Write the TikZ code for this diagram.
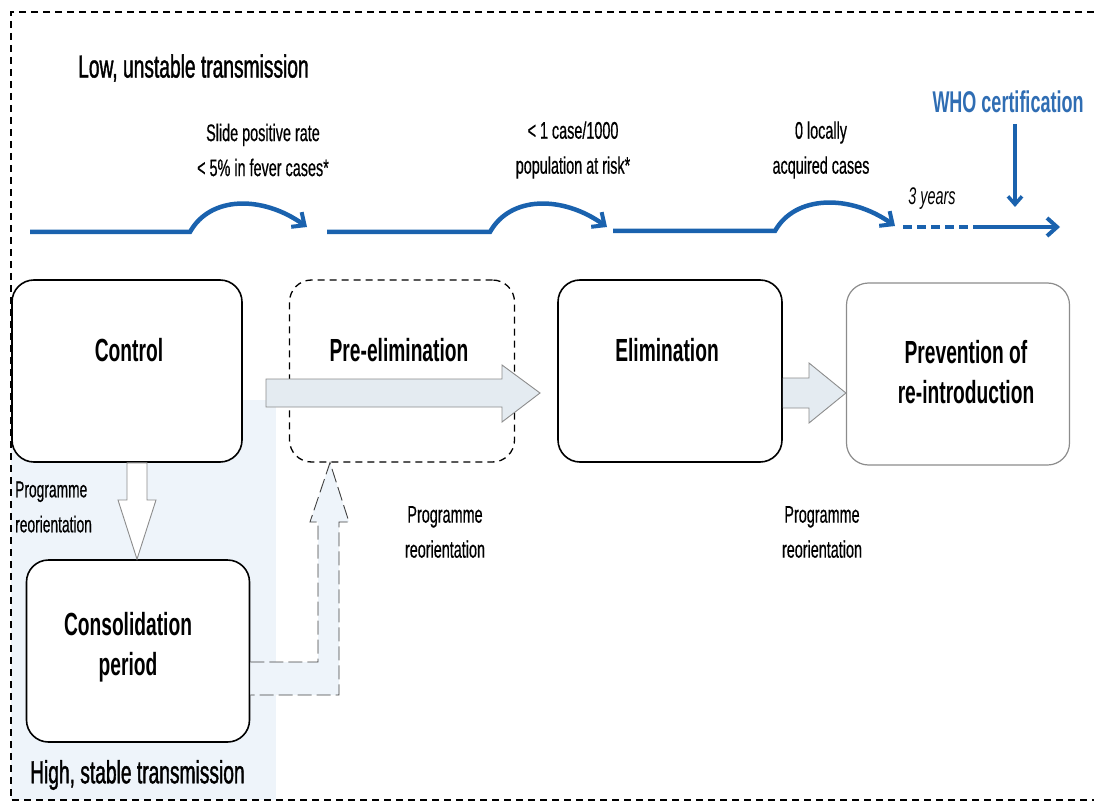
\documentclass[tikz,border=0pt]{standalone}
\usepackage{fontspec}
\setmainfont{Liberation Sans}[FakeStretch=0.6]
\newfontfamily\medfont{Liberation Sans}[FakeStretch=0.6, FakeBold=1.2]
\newfontfamily\smallfont{Liberation Sans}[FakeStretch=0.6, FakeBold=0.5]
\usetikzlibrary{arrows.meta}
\definecolor{tblue}{HTML}{1A62AE}
\definecolor{whoblue}{HTML}{2F6DB3}
\definecolor{bgblue}{HTML}{EEF4FA}
\definecolor{arrowfill}{HTML}{E4EBF1}
\definecolor{boxgray}{HTML}{8C8C8C}
\begin{document}
\begin{tikzpicture}[x=1pt,y=-1pt,
  stagebox/.style={draw, fill=white, line width=1.6pt, rounded corners=22pt, minimum width=228pt, minimum height=182pt, inner sep=0pt},
  stagetext/.style={font=\bfseries\fontsize{32}{40}\selectfont, align=center, inner sep=0pt},
  smalltext/.style={font=\smallfont\fontsize{24}{35}\selectfont, align=center, inner sep=0pt},
  titletext/.style={font=\medfont\fontsize{32}{38}\selectfont, anchor=west, inner sep=0pt},
  timeline/.style={draw=tblue, line width=4.5pt},
  humptip/.style={-{Straight Barb[length=10pt,width=18pt,line width=4pt]}},
  fatarrow/.style={draw=boxgray, line width=0.9pt, fill=arrowfill},
  frame/.style={draw, line width=1.2pt, dash pattern=on 7pt off 5pt}
]
\useasboundingbox (0,0) rectangle (1094,810);
% light blue background region
\fill[bgblue] (11,400) rectangle (276,800);
% frame
\draw[frame] (1094,12) -- (11,12) -- (11,800) -- (1094,800);

% title texts
\node[titletext] (low) at (78,68) {Low, unstable transmission};
\node[titletext] (high) at (30,775) {High, stable transmission};

% timeline coordinates
\coordinate (a0) at (30,232);   \coordinate (a1) at (190,232);  \coordinate (a2) at (307,227);
\coordinate (b0) at (327,232);  \coordinate (b1) at (490,232);  \coordinate (b2) at (607,227);
\coordinate (c0) at (613,231);  \coordinate (c1) at (775,231);  \coordinate (c2) at (895,226);
\coordinate (d0) at (903,227);  \coordinate (d1) at (980,227);  \coordinate (d2) at (1060,227);
\coordinate (w0) at (1015,124); \coordinate (w1) at (1015,207);

\draw[timeline, humptip] (a0) -- (a1) .. controls +(20,-36) and +(-45,-32) .. (a2);
\draw[timeline, humptip] (b0) -- (b1) .. controls +(20,-36) and +(-45,-32) .. (b2);
\draw[timeline, humptip] (c0) -- (c1) .. controls +(20,-36) and +(-45,-32) .. (c2);
\draw[timeline, dash pattern=on 9pt off 5pt] (d0) -- (d1);
\draw[timeline, -{Straight Barb[length=10pt,width=18pt,line width=4pt]}] (d1) -- (d2);
\draw[draw=tblue, line width=4pt, -{Straight Barb[length=8pt,width=14pt,line width=3.5pt]}] (w0) -- (w1);

% timeline labels
\node[smalltext] (l1) at (263,150) {Slide positive rate\\< 5\% in fever cases*};
\node[smalltext] (l2) at (573,150) {< 1 case/1000\\population at risk*};
\node[smalltext] (l3) at (821,150) {0 locally\\acquired cases};
\node[font=\itshape\fontsize{24}{28}\selectfont, inner sep=0pt] (yrs) at (932,199) {3 years};
\node[font=\bfseries\fontsize{30}{36}\selectfont, text=whoblue, inner sep=0pt] (who) at (1008,102) {WHO certification};

% stage boxes
\node[stagebox, minimum width=230pt] (control) at (127,371) {};
\node[stagebox, minimum width=225pt, line width=1.3pt, dash pattern=on 7pt off 5pt] (pre) at (402,371) {};
\node[stagebox, minimum width=224pt] (elim) at (670,371) {};
\node[stagebox, minimum width=223pt, draw=boxgray, line width=1.2pt] (prev) at (958,374) {};
\node[stagebox, minimum width=223pt] (cons) at (138,651) {};

\node[stagetext] (controlT) at (129,350) {Control};
\node[stagetext] (preT) at (399,350) {Pre-elimination};
\node[stagetext] (elimT) at (667,350) {Elimination};
\node[stagetext] (prevT) at (966,372) {Prevention of\\re-introduction};
\node[stagetext] (consT) at (128,647) {Consolidation\\period};

% programme reorientation labels
\node[font=\smallfont\fontsize{23}{35}\selectfont, align=left, anchor=west, inner sep=0pt] (pr1) at (15,507) {Programme\\reorientation};
\node[smalltext] (pr2) at (445,532) {Programme\\reorientation};
\node[smalltext] (pr3) at (822,532) {Programme\\reorientation};

% big arrow control -> elimination
\draw[fatarrow] (266,379) -- (502,379) -- (502,365) -- (540,393) -- (502,422) -- (502,407) -- (266,407) -- cycle;
% small arrow elimination -> prevention
\draw[fatarrow] (elim.east |- 0,378) -- (809,378) -- (809,363) -- (prev.west |- 0,393) -- (809,423) -- (809,408) -- (elim.east |- 0,408);
% down arrow control -> consolidation
\draw[draw=boxgray, line width=0.9pt, fill=white] (control.south -| 127,0) -- (control.south -| 147,0) -- (147,500) -- (156,500) -- (cons.north -| 137,0) -- (118,500) -- (127,500) -- cycle;
% dashed L arrow consolidation -> pre-elimination
\draw[draw=black!75, line width=0.9pt, fill=bgblue, dash pattern=on 14pt off 5pt]
  (cons.east |- 0,662) -- (318,662) -- (318,522) -- (310,522) -- (pre.south -| 330,0) -- (349,522) -- (339,522) -- (339,695) -- (cons.east |- 0,695);
\end{tikzpicture}
\end{document}
